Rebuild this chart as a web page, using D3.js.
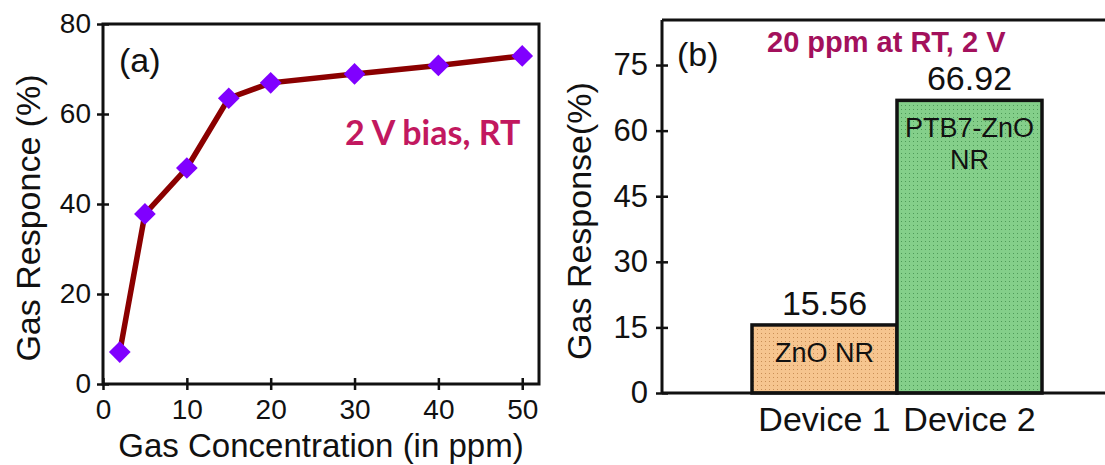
<!DOCTYPE html>
<html>
<head>
<meta charset="utf-8">
<script src="https://cdn.jsdelivr.net/npm/d3@7"></script>
<style>
  body { margin: 0; background: #fff; }
  svg { display: block; font-family: "Liberation Sans", Arial, sans-serif; }
</style>
</head>
<body>
<svg width="1105" height="465"></svg>
<script>
(function (d3) {
  'use strict';

  // panel (a) data
  const concentration = [2, 5, 10, 15, 20, 30, 40, 50];
  const response = [7.1, 37.8, 48, 63.5, 66.92, 68.9, 70.8, 72.9];
  const xTicksA = [0, 10, 20, 30, 40, 50];
  const yTicksA = [0, 20, 40, 60, 80];

  // panel (b) data
  const devices = ['Device 1', 'Device 2'];
  const deviceValues = [15.56, 66.92];
  const deviceNames = [['ZnO NR'], ['PTB7-ZnO', 'NR']];
  const yTicksB = [0, 15, 30, 45, 60, 75];

  const svg = d3.select('svg');
  const width = +svg.attr('width');
  const height = +svg.attr('height');

  svg.append('rect').attr('width', width).attr('height', height).attr('fill', '#fff');

  // dotted fill patterns
  const defs = svg.append('defs');
  const makePattern = (id, bg, dot) => {
    const p = defs.append('pattern')
      .attr('id', id)
      .attr('width', 4).attr('height', 4)
      .attr('patternUnits', 'userSpaceOnUse');
    p.append('rect').attr('width', 4).attr('height', 4).attr('fill', bg);
    p.append('rect').attr('x', 1).attr('y', 1).attr('width', 1).attr('height', 1).attr('fill', dot);
  };
  makePattern('dotsOrange', '#f6c58f', '#c98f56');
  makePattern('dotsGreen', '#84cf8a', '#4e9a58');

  const styleAxis = (size) => g => {
    g.select('.domain').remove();
    g.selectAll('.tick line').attr('stroke', '#111').attr('stroke-width', 2.5);
    g.selectAll('.tick text').attr('font-size', size).attr('fill', '#111');
  };

  // ---------- panel (a) ----------
  const a = { left: 103, right: 539, top: 24, bottom: 384 };

  const xA = d3.scaleLinear().domain([0, 52]).range([a.left, a.right]);
  const yA = d3.scaleLinear().domain([0, 80]).range([a.bottom, a.top]);

  const gA = svg.append('g');

  gA.append('g')
    .attr('transform', `translate(0, ${a.bottom})`)
    .call(d3.axisBottom(xA).tickValues(xTicksA).tickSize(6))
    .call(styleAxis(28))
    .call(g => g.selectAll('.tick line').attr('y1', -6).attr('y2', 6))
    .call(g => g.selectAll('.tick text').attr('dy', null).attr('y', 35));

  gA.append('g')
    .attr('transform', `translate(${a.left}, 0)`)
    .call(d3.axisLeft(yA).tickValues(yTicksA).tickSize(6))
    .call(styleAxis(28))
    .call(g => g.selectAll('.tick line').attr('x1', -6).attr('x2', 6))
    .call(g => g.selectAll('.tick text').attr('x', -12));

  gA.append('rect')
    .attr('x', a.left).attr('y', a.top)
    .attr('width', a.right - a.left).attr('height', a.bottom - a.top)
    .attr('fill', 'none').attr('stroke', '#111').attr('stroke-width', 3);

  const points = concentration.map((c, i) => ({ c, r: response[i] }));

  gA.append('path')
    .datum(points)
    .attr('fill', 'none')
    .attr('stroke', '#8b0000')
    .attr('stroke-width', 5.5)
    .attr('d', d3.line().x(d => xA(d.c)).y(d => yA(d.r)));

  gA.selectAll('.marker').data(points)
    .enter().append('path')
      .attr('class', 'marker')
      .attr('transform', d => `translate(${xA(d.c)}, ${yA(d.r)})`)
      .attr('d', d3.symbol(d3.symbolDiamond2, 300))
      .attr('fill', '#8000ff');

  gA.append('text')
    .attr('x', 119).attr('y', 72)
    .attr('font-size', 34).attr('fill', '#111')
    .text('(a)');

  gA.append('text')
    .attr('x', 345).attr('y', 145)
    .attr('font-family', 'Lato, "Open Sans", sans-serif')
    .attr('font-weight', 'bold')
    .attr('font-size', 34).attr('fill', '#c2185f')
    .text('2 V bias, RT');

  gA.append('text')
    .attr('x', 321).attr('y', 457)
    .attr('text-anchor', 'middle')
    .attr('font-size', 33).attr('fill', '#111')
    .text('Gas Concentration (in ppm)');

  gA.append('text')
    .attr('transform', `translate(40, 218) rotate(-90)`)
    .attr('text-anchor', 'middle')
    .attr('font-size', 34).attr('fill', '#111')
    .text('Gas Responce (%)');

  // ---------- panel (b) ----------
  const b = { left: 662, right: 1105, top: 20, bottom: 393 };

  const xB = d3.scaleBand().domain(devices).range([752, 1042]).padding(0);
  const yB = d3.scaleLinear().domain([0, 85.3]).range([b.bottom, b.top]);

  const gB = svg.append('g');

  gB.append('g')
    .attr('transform', `translate(${b.left}, 0)`)
    .call(d3.axisLeft(yB).tickValues(yTicksB).tickSize(6))
    .call(styleAxis(31))
    .call(g => g.selectAll('.tick line').attr('x1', -6).attr('x2', 6))
    .call(g => g.selectAll('.tick text').attr('x', -14));

  const bars = devices.map((d, i) => ({ d, v: deviceValues[i], name: deviceNames[i] }));

  gB.selectAll('.bar').data(bars)
    .enter().append('rect')
      .attr('class', 'bar')
      .attr('x', d => xB(d.d))
      .attr('y', d => yB(d.v))
      .attr('width', xB.bandwidth())
      .attr('height', d => yB(0) - yB(d.v))
      .attr('fill', (d, i) => i === 0 ? 'url(#dotsOrange)' : 'url(#dotsGreen)')
      .attr('stroke', '#111').attr('stroke-width', 3.5);

  gB.append('line')
    .attr('x1', b.left).attr('x2', b.right)
    .attr('y1', b.top).attr('y2', b.top)
    .attr('stroke', '#111').attr('stroke-width', 3);
  gB.append('line')
    .attr('x1', b.left).attr('x2', b.right)
    .attr('y1', b.bottom).attr('y2', b.bottom)
    .attr('stroke', '#111').attr('stroke-width', 3);
  gB.append('line')
    .attr('x1', b.left).attr('x2', b.left)
    .attr('y1', b.top).attr('y2', b.bottom)
    .attr('stroke', '#111').attr('stroke-width', 3);

  gB.selectAll('.val').data(bars)
    .enter().append('text')
      .attr('class', 'val')
      .attr('x', d => xB(d.d) + xB.bandwidth() / 2)
      .attr('y', d => yB(d.v) - 10)
      .attr('text-anchor', 'middle')
      .attr('font-size', 34).attr('fill', '#111')
      .text(d => d.v.toFixed(2));

  gB.selectAll('.name').data(bars)
    .enter().append('text')
      .attr('class', 'name')
      .attr('text-anchor', 'middle')
      .attr('font-size', 27).attr('fill', '#111')
      .attr('x', d => xB(d.d) + xB.bandwidth() / 2)
      .attr('y', d => yB(d.v) + 37)
      .selectAll('tspan').data(d => d.name)
      .enter().append('tspan')
        .attr('x', function () { return this.parentNode.getAttribute('x'); })
        .attr('dy', (t, i) => i === 0 ? 0 : 32)
        .text(t => t);

  gB.selectAll('.cat').data(devices)
    .enter().append('text')
      .attr('class', 'cat')
      .attr('x', d => xB(d) + xB.bandwidth() / 2)
      .attr('y', 431)
      .attr('text-anchor', 'middle')
      .attr('font-size', 34).attr('fill', '#111')
      .text(d => d);

  gB.append('text')
    .attr('x', 677).attr('y', 66)
    .attr('font-size', 34).attr('fill', '#111')
    .text('(b)');

  gB.append('text')
    .attr('x', 767).attr('y', 52)
    .attr('font-weight', 'bold')
    .attr('font-size', 29).attr('fill', '#a3105c')
    .text('20 ppm at RT, 2 V');

  gB.append('text')
    .attr('transform', `translate(591, 221) rotate(-90)`)
    .attr('text-anchor', 'middle')
    .attr('font-size', 34).attr('fill', '#111')
    .text('Gas Response(%)');

}(d3));
</script>
</body>
</html>
